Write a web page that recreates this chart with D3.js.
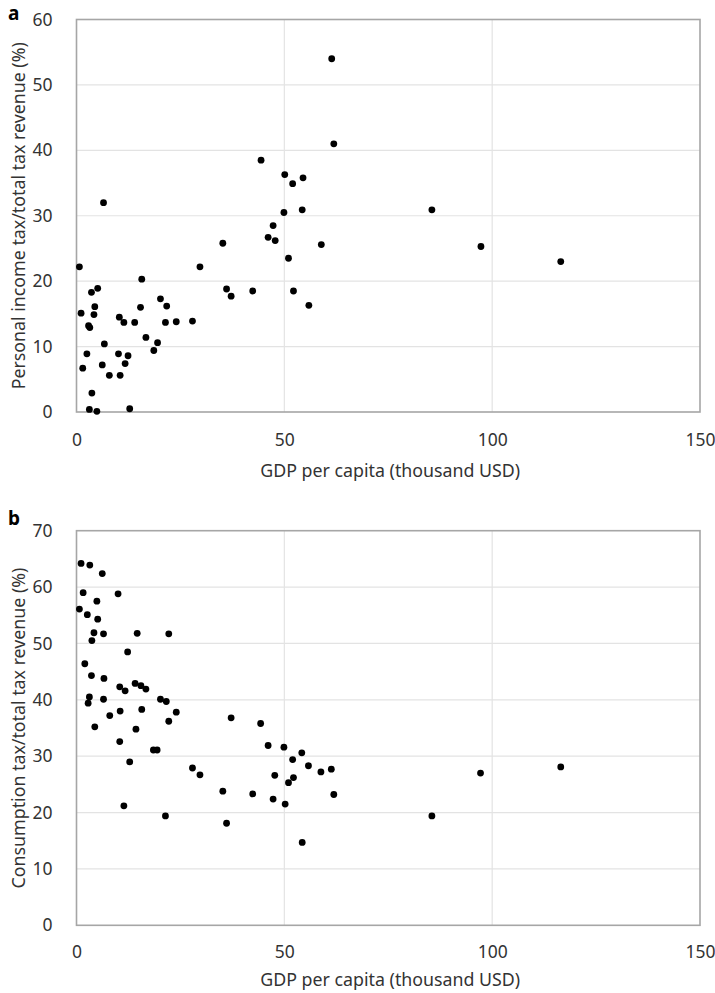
<!DOCTYPE html>
<html>
<head>
<meta charset="utf-8">
<script src="https://cdn.jsdelivr.net/npm/d3@7"></script>
<style>
body { margin: 0; background: #fff; }
svg { display: block; font-family: "Noto Sans", "Open Sans", sans-serif; }
.tick text { fill: #333; }
</style>
</head>
<body>
<svg width="715" height="993"></svg>
<script>
// panel a: GDP per capita (thousand USD) vs personal income tax share (%)
var gdpA = [0.7, 1.1, 1.5, 2.5, 2.9, 3.2, 3.6, 5.1, 4.4, 4.2, 3.7, 3.1, 4.9, 6.7, 6.2, 7.9, 6.5,
	10.3, 11.4, 10.1, 12.4, 11.7, 10.5, 12.8, 14.0, 15.7, 15.4, 16.7, 18.6, 19.5, 20.2, 21.7, 21.4,
	24.0, 27.9, 29.7, 35.2, 36.1, 37.2, 42.4, 44.4, 46.1, 47.3, 47.8, 49.9, 50.1, 51.0, 52.0, 52.2,
	54.3, 54.5, 55.9, 58.9, 61.4, 61.9, 85.5, 97.3, 116.5];
var incomeTax = [22.2, 15.1, 6.7, 8.9, 13.2, 12.9, 18.3, 18.9, 16.1, 14.9, 2.9, 0.4, 0.1, 10.4, 7.2, 5.6, 32.0,
	14.5, 13.7, 8.9, 8.6, 7.4, 5.6, 0.5, 13.7, 20.3, 16.0, 11.4, 9.4, 10.6, 17.3, 16.2, 13.7,
	13.8, 13.9, 22.2, 25.8, 18.8, 17.7, 18.5, 38.5, 26.7, 28.5, 26.2, 30.5, 36.3, 23.5, 34.9, 18.5,
	30.9, 35.8, 16.3, 25.6, 54.0, 41.0, 30.9, 25.3, 23.0];

// panel b: GDP per capita (thousand USD) vs consumption tax share (%)
var gdpB = [1.1, 3.2, 6.2, 1.6, 10.0, 4.9, 0.7, 2.6, 5.1, 4.2, 6.5, 3.7, 14.6, 22.2, 12.3, 2.0, 3.6,
	6.6, 10.4, 11.7, 14.1, 15.5, 16.7, 3.1, 2.8, 6.5, 20.2, 21.6, 10.5, 15.7, 8.0, 24.0, 37.2,
	4.4, 22.2, 10.4, 14.3, 18.5, 19.4, 12.8, 27.9, 29.7, 35.2, 11.4, 21.4, 36.1,
	44.3, 46.1, 49.9, 54.2, 52.0, 55.8, 58.8, 61.3, 47.7, 52.2, 51.0, 42.4, 47.3, 50.2, 61.9, 54.3,
	85.5, 97.2, 116.5];
var consumptionTax = [64.2, 63.9, 62.4, 59.0, 58.8, 57.5, 56.1, 55.1, 54.3, 51.9, 51.7, 50.5, 51.8, 51.7, 48.5, 46.4, 44.3,
	43.8, 42.3, 41.6, 42.9, 42.5, 41.9, 40.5, 39.4, 40.1, 40.1, 39.7, 38.0, 38.3, 37.2, 37.8, 36.8,
	35.2, 36.2, 32.6, 34.8, 31.1, 31.1, 29.0, 27.9, 26.7, 23.8, 21.2, 19.4, 18.1,
	35.8, 31.9, 31.6, 30.6, 29.4, 28.3, 27.2, 27.7, 26.6, 26.2, 25.3, 23.3, 22.4, 21.5, 23.2, 14.7,
	19.4, 27.0, 28.1];

var xTicks = [0, 50, 100, 150];
var yTicksA = [0, 10, 20, 30, 40, 50, 60];
var yTicksB = [0, 10, 20, 30, 40, 50, 60, 70];
var xTitle = "GDP per capita (thousand USD)";

var svg = d3.select("svg");
var left = 76.5, right = 700;

function drawPanel(opts) {
	var g = svg.append("g");
	var x = d3.scaleLinear().domain([0, 150]).range([left, right]);
	var y = d3.scaleLinear().domain([0, opts.yMax]).range([opts.bottom, opts.top]);

	// horizontal grid
	g.append("g").selectAll("line").data(opts.yTicks.slice(1, -1)).enter().append("line")
		.attr("x1", left).attr("x2", right)
		.attr("y1", function(d) { return y(d); }).attr("y2", function(d) { return y(d); })
		.attr("stroke", "#e3e3e3").attr("stroke-width", 1.2);
	// vertical grid
	g.append("g").selectAll("line").data(xTicks.slice(1, -1)).enter().append("line")
		.attr("x1", function(d) { return x(d); }).attr("x2", function(d) { return x(d); })
		.attr("y1", opts.top).attr("y2", opts.bottom)
		.attr("stroke", "#e3e3e3").attr("stroke-width", 1.2);

	// plot frame
	g.append("rect").attr("x", left).attr("y", opts.top)
		.attr("width", right - left).attr("height", opts.bottom - opts.top)
		.attr("fill", "none").attr("stroke", "#a6a6a6").attr("stroke-width", 1.6);

	var xAxis = g.append("g").attr("transform", "translate(0," + opts.bottom + ")")
		.call(d3.axisBottom(x).tickValues(xTicks).tickSize(0).tickPadding(opts.xPad));
	xAxis.select(".domain").remove();
	xAxis.selectAll("text").attr("font-size", 17.5).attr("font-family", "Noto Sans");

	var yAxis = g.append("g").attr("transform", "translate(" + left + ",0)")
		.call(d3.axisLeft(y).tickValues(opts.yTicks).tickSize(0).tickPadding(24));
	yAxis.select(".domain").remove();
	yAxis.selectAll("text").attr("font-size", 17.5).attr("font-family", "Noto Sans");

	g.selectAll(".dot").data(opts.xs).enter().append("circle").attr("class", "dot")
		.attr("cx", function(d) { return x(d); })
		.attr("cy", function(d, i) { return y(opts.ys[i]); })
		.attr("r", 3.4).attr("fill", "#000");

	g.append("text").attr("x", (left + right) / 2 + 2).attr("y", opts.titleY)
		.attr("text-anchor", "middle").attr("font-size", 17.8).attr("fill", "#333")
		.text(xTitle);

	g.append("text").attr("transform", "translate(25," + ((opts.top + opts.bottom) / 2) + ") rotate(-90)")
		.attr("text-anchor", "middle").attr("font-size", 17.8).attr("fill", "#333")
		.text(opts.yTitle);

	g.append("text").attr("x", 8).attr("y", opts.labelY)
		.attr("font-size", 19).attr("font-weight", "bold").attr("fill", "#000")
		.text(opts.label);
}

drawPanel({ top: 19.5, bottom: 412, yMax: 60, yTicks: yTicksA, xs: gdpA, ys: incomeTax,
	xPad: 22, titleY: 477, labelY: 20, label: "a",
	yTitle: "Personal income tax/total tax revenue (%)" });

drawPanel({ top: 530.7, bottom: 925.3, yMax: 70, yTicks: yTicksB, xs: gdpB, ys: consumptionTax,
	xPad: 20, titleY: 986, labelY: 525, label: "b",
	yTitle: "Consumption tax/total tax revenue (%)" });
</script>
</body>
</html>
